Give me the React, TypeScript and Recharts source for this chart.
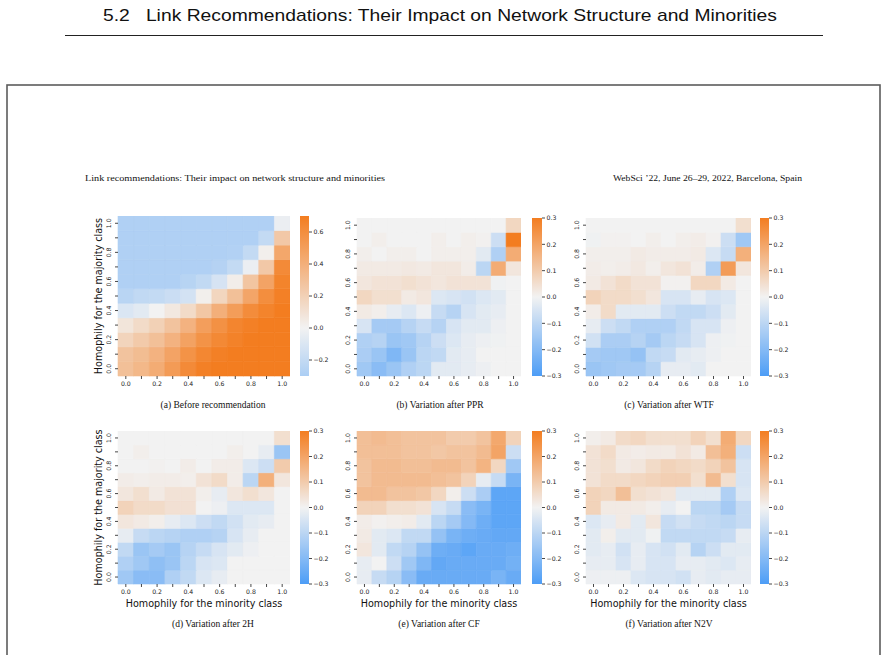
import React from "react";
import { BarChart, Bar, Cell, XAxis, YAxis } from "recharts";

// Homophily levels shared by both axes of every grid (0.0 .. 1.0)
const homophilyLevels = ["0.0", "0.1", "0.2", "0.3", "0.4", "0.5", "0.6", "0.7", "0.8", "0.9", "1.0"];

// Each grid: rows run from majority homophily 1.0 (top) down to 0.0 (bottom),
// columns from minority homophily 0.0 (left) to 1.0 (right).
const beforeRecommendation = [
  [-0.28, -0.28, -0.28, -0.28, -0.28, -0.28, -0.28, -0.28, -0.28, -0.28, -0.03],
  [-0.28, -0.28, -0.28, -0.28, -0.28, -0.28, -0.28, -0.28, -0.28, -0.2, 0.25],
  [-0.28, -0.28, -0.28, -0.28, -0.28, -0.28, -0.28, -0.27, -0.2, 0.02, 0.45],
  [-0.28, -0.28, -0.28, -0.28, -0.28, -0.28, -0.26, -0.2, -0.03, 0.25, 0.62],
  [-0.28, -0.28, -0.28, -0.28, -0.25, -0.21, -0.12, 0.03, 0.27, 0.47, 0.66],
  [-0.24, -0.21, -0.2, -0.17, -0.13, 0.02, 0.17, 0.3, 0.46, 0.6, 0.68],
  [-0.1, -0.07, 0.0, 0.06, 0.14, 0.26, 0.4, 0.51, 0.61, 0.66, 0.7],
  [0.08, 0.14, 0.2, 0.28, 0.38, 0.5, 0.58, 0.65, 0.68, 0.7, 0.7],
  [0.18, 0.24, 0.3, 0.38, 0.48, 0.57, 0.63, 0.67, 0.7, 0.7, 0.7],
  [0.28, 0.32, 0.38, 0.47, 0.57, 0.64, 0.68, 0.7, 0.7, 0.7, 0.7],
  [0.3, 0.35, 0.42, 0.52, 0.62, 0.68, 0.7, 0.7, 0.7, 0.7, 0.7],
];

const variationPPR = [
  [0.0, 0.0, 0.0, 0.0, 0.0, 0.0, 0.0, 0.0, 0.0, 0.0, 0.07],
  [0.0, 0.01, 0.0, 0.0, 0.0, 0.01, 0.0, 0.01, 0.005, -0.07, 0.3],
  [0.01, 0.0, 0.01, 0.01, 0.0, 0.01, 0.01, 0.01, -0.03, -0.12, 0.18],
  [0.02, 0.02, 0.02, 0.025, 0.02, 0.03, 0.03, 0.015, -0.1, 0.18, 0.03],
  [0.03, 0.04, 0.04, 0.05, 0.04, 0.03, 0.04, 0.04, 0.04, -0.005, 0.0],
  [0.07, 0.05, 0.05, 0.02, 0.03, -0.04, -0.05, -0.06, -0.04, -0.03, 0.0],
  [0.02, 0.01, -0.02, -0.04, -0.01, -0.08, -0.11, -0.05, -0.03, -0.02, 0.0],
  [-0.05, -0.14, -0.14, -0.11, -0.08, -0.11, -0.05, -0.03, -0.03, -0.01, 0.0],
  [-0.12, -0.11, -0.16, -0.15, -0.11, -0.07, -0.04, -0.02, -0.01, -0.005, 0.0],
  [-0.13, -0.16, -0.21, -0.16, -0.1, -0.09, -0.03, -0.02, 0.0, 0.0, 0.0],
  [-0.15, -0.19, -0.16, -0.12, -0.1, -0.03, -0.03, -0.02, -0.01, 0.0, 0.0],
];

const variationWTF = [
  [0.0, 0.0, 0.0, 0.0, 0.0, 0.0, 0.0, 0.0, 0.0, 0.0, 0.05],
  [-0.005, 0.005, 0.005, 0.0, 0.01, 0.0, 0.01, 0.015, 0.005, -0.07, -0.15],
  [0.01, 0.01, 0.01, 0.02, 0.015, 0.015, 0.015, 0.02, -0.04, -0.08, 0.17],
  [0.015, 0.01, 0.015, 0.025, 0.01, 0.03, 0.04, 0.015, -0.12, 0.22, 0.03],
  [0.02, 0.04, 0.06, 0.04, 0.04, 0.005, 0.005, 0.07, 0.07, 0.02, 0.0],
  [0.08, 0.06, 0.06, 0.05, 0.03, -0.05, -0.05, -0.02, -0.05, -0.04, 0.0],
  [0.015, 0.06, -0.03, -0.03, -0.03, -0.07, -0.09, -0.09, -0.07, -0.03, 0.0],
  [-0.02, -0.07, -0.09, -0.12, -0.12, -0.12, -0.09, -0.05, -0.05, -0.01, 0.0],
  [-0.06, -0.13, -0.13, -0.11, -0.14, -0.1, -0.08, -0.05, -0.01, -0.005, 0.0],
  [-0.14, -0.15, -0.15, -0.17, -0.09, -0.08, -0.03, -0.02, -0.01, 0.0, 0.0],
  [-0.16, -0.15, -0.14, -0.14, -0.11, -0.02, -0.02, -0.03, 0.0, 0.0, 0.0],
];

const variation2H = [
  [0.0, 0.0, 0.0, 0.0, 0.0, 0.0, 0.0, 0.0, 0.0, 0.0, 0.05],
  [0.0, 0.01, 0.0, 0.0, 0.0, 0.0, 0.0, 0.01, 0.0, -0.02, -0.16],
  [0.0, 0.0, 0.005, 0.0, 0.015, 0.0, 0.015, 0.015, -0.04, -0.07, 0.1],
  [0.015, 0.01, 0.015, 0.015, 0.01, 0.04, 0.06, 0.015, -0.1, 0.17, 0.03],
  [0.03, 0.05, 0.02, 0.04, 0.04, 0.01, -0.02, 0.03, 0.05, 0.03, 0.0],
  [0.08, 0.06, 0.06, 0.045, 0.045, 0.0, -0.01, -0.04, -0.04, -0.04, 0.0],
  [0.03, 0.02, 0.01, -0.02, -0.04, -0.07, -0.09, -0.06, -0.03, -0.02, 0.0],
  [-0.02, -0.08, -0.1, -0.11, -0.12, -0.12, -0.11, -0.05, -0.02, 0.0, 0.0],
  [-0.09, -0.16, -0.14, -0.16, -0.11, -0.08, -0.05, -0.03, -0.01, 0.0, 0.0],
  [-0.12, -0.15, -0.18, -0.16, -0.1, -0.05, -0.04, 0.0, 0.0, 0.0, 0.0],
  [-0.15, -0.19, -0.19, -0.12, -0.09, -0.04, -0.02, 0.0, 0.0, 0.0, 0.0],
];

const variationCF = [
  [0.13, 0.14, 0.13, 0.12, 0.12, 0.12, 0.1, 0.1, 0.12, 0.19, 0.08],
  [0.13, 0.13, 0.13, 0.12, 0.12, 0.11, 0.12, 0.12, 0.14, 0.2, -0.07],
  [0.12, 0.14, 0.14, 0.13, 0.13, 0.14, 0.14, 0.12, 0.16, 0.07, -0.15],
  [0.12, 0.14, 0.14, 0.14, 0.14, 0.13, 0.12, 0.08, -0.02, -0.08, -0.22],
  [0.14, 0.14, 0.12, 0.12, 0.11, 0.07, 0.01, -0.07, -0.13, -0.27, -0.27],
  [0.08, 0.08, 0.05, 0.05, 0.04, -0.05, -0.08, -0.19, -0.22, -0.27, -0.27],
  [0.015, 0.005, 0.01, 0.015, -0.03, -0.1, -0.14, -0.2, -0.24, -0.27, -0.27],
  [0.02, -0.03, -0.04, -0.09, -0.09, -0.17, -0.22, -0.24, -0.25, -0.26, -0.26],
  [0.03, -0.03, -0.09, -0.11, -0.17, -0.24, -0.25, -0.27, -0.25, -0.25, -0.24],
  [-0.02, 0.0, -0.07, -0.15, -0.21, -0.26, -0.25, -0.25, -0.25, -0.25, -0.23],
  [-0.02, -0.08, -0.11, -0.19, -0.25, -0.25, -0.25, -0.25, -0.25, -0.22, -0.25],
];

const variationN2V = [
  [0.01, 0.02, 0.06, 0.07, 0.05, 0.05, 0.05, 0.08, 0.05, 0.18, 0.07],
  [0.04, 0.06, 0.02, 0.015, 0.02, 0.02, 0.04, 0.02, 0.13, 0.17, -0.07],
  [0.04, 0.05, 0.02, 0.03, 0.06, 0.08, 0.07, 0.06, 0.08, 0.12, -0.05],
  [0.04, 0.06, 0.06, 0.07, 0.08, 0.09, 0.09, 0.05, 0.14, 0.05, -0.05],
  [0.08, 0.07, 0.13, 0.05, 0.04, 0.03, -0.03, -0.03, -0.03, -0.12, -0.04],
  [0.08, 0.02, 0.02, 0.02, 0.01, -0.02, 0.0, -0.1, -0.1, -0.14, -0.08],
  [-0.04, -0.02, 0.02, -0.03, 0.03, -0.08, -0.06, -0.08, -0.09, -0.1, -0.08],
  [-0.03, 0.01, -0.03, -0.03, -0.005, -0.09, -0.09, -0.09, -0.09, -0.08, -0.02],
  [-0.03, -0.02, -0.06, -0.02, -0.05, -0.06, -0.03, -0.11, -0.07, -0.03, -0.03],
  [-0.02, -0.02, -0.05, -0.02, -0.05, -0.05, -0.02, -0.02, -0.03, -0.04, -0.02],
  [-0.01, -0.01, -0.01, -0.04, -0.05, -0.05, -0.06, -0.02, -0.03, -0.02, -0.02],
];

const beforeTicks = [-0.2, 0, 0.2, 0.4, 0.6];
const variationTicks = [-0.3, -0.2, -0.1, 0, 0.1, 0.2, 0.3];

// Diverging colour map: blue -> light grey -> orange
const BLUE = [77, 157, 246];
const MID = [242, 242, 242];
const ORANGE = [243, 125, 32];

function divergingColor(v: number, extent: number): string {
  const t = Math.max(-1, Math.min(1, v / extent));
  const end = t < 0 ? BLUE : ORANGE;
  const a = Math.abs(t);
  const c = MID.map((m, k) => Math.round(m + (end[k] - m) * a));
  return `rgb(${c[0]},${c[1]},${c[2]})`;
}

const fmtTick = (v: number) => {
  const r = Math.round(v * 10) / 10;
  return r < 0 ? `\u2212${Math.abs(r).toFixed(1)}` : r.toFixed(1);
};

const TICK_FONT = "'DejaVu Sans', sans-serif";
const TICK_SIZE = 6.2;
const INK = "#1a1a1a";

type Box = { x: number; y: number; w: number; h: number };

const levelCenters = homophilyLevels.map((_, i) => i + 0.5);

function RotatedTick(props: any) {
  const { x, y, payload } = props;
  const idx = Math.round(payload.value - 0.5);
  if (idx % 2 !== 0) return null;
  const bx = x - 2;
  return (
    <text
      x={bx}
      y={y}
      transform={`rotate(-90 ${bx} ${y})`}
      textAnchor="middle"
      fontSize={TICK_SIZE}
      fontFamily={TICK_FONT}
      fill={INK}
    >
      {homophilyLevels[idx]}
    </text>
  );
}

function Heatmap({ grid, extent, plot }: { grid: number[][]; extent: number; plot: Box }) {
  const yAxisW = 22;
  const xAxisH = 16;
  const data = homophilyLevels.map((label) => {
    const row: Record<string, any> = { x: label };
    homophilyLevels.forEach((_, j) => {
      row[`y${j}`] = 1;
    });
    return row;
  });
  return (
    <div style={{ position: "absolute", left: plot.x - yAxisW, top: plot.y }}>
      <BarChart
        width={plot.w + yAxisW}
        height={plot.h + xAxisH}
        data={data}
        margin={{ top: 0, right: 0, bottom: 0, left: 0 }}
        barCategoryGap={0}
        barGap={0}
      >
        <XAxis
          dataKey="x"
          interval={0}
          height={xAxisH}
          tickSize={3}
          tickMargin={3}
          axisLine={false}
          tickLine={{ stroke: INK, strokeWidth: 0.8 }}
          tickFormatter={(v: string, i: number) => (i % 2 === 0 ? v : "")}
          tick={{ fontSize: TICK_SIZE, fontFamily: TICK_FONT, fill: INK }}
        />
        <YAxis
          type="number"
          domain={[0, homophilyLevels.length]}
          ticks={levelCenters}
          interval={0}
          width={yAxisW}
          tickSize={3}
          axisLine={false}
          tickLine={{ stroke: INK, strokeWidth: 0.8 }}
          tick={<RotatedTick />}
        />
        {homophilyLevels.map((_, j) => (
          <Bar key={j} dataKey={`y${j}`} stackId="grid" isAnimationActive={false}>
            {homophilyLevels.map((__, i) => {
              const c = divergingColor(grid[grid.length - 1 - j][i], extent);
              return <Cell key={i} fill={c} stroke={c} strokeWidth={0.6} />;
            })}
          </Bar>
        ))}
      </BarChart>
    </div>
  );
}

function Colorbar({ id, vmin, vmax, extent, ticks, box }: { id: string; vmin: number; vmax: number; extent: number; ticks: number[]; box: Box }) {
  const labelW = 26;
  const pad = 6;
  const steps = 40;
  const stops = Array.from({ length: steps + 1 }, (_, k) => {
    const f = k / steps;
    const v = vmin + (vmax - vmin) * f;
    return <stop key={k} offset={f} stopColor={divergingColor(v, extent)} />;
  });
  return (
    <div style={{ position: "absolute", left: box.x, top: box.y - pad }}>
      <BarChart
        width={box.w + labelW}
        height={box.h + 2 * pad}
        data={[{ k: "cb", span: [vmin, vmax] }]}
        margin={{ top: pad, right: 0, bottom: pad, left: 0 }}
        barCategoryGap={0}
      >
        <defs>
          <linearGradient id={id} x1="0" y1="1" x2="0" y2="0">
            {stops}
          </linearGradient>
        </defs>
        <XAxis dataKey="k" hide />
        <YAxis
          type="number"
          orientation="right"
          domain={[vmin, vmax]}
          allowDataOverflow
          ticks={ticks}
          interval={0}
          width={labelW}
          tickSize={3}
          tickMargin={1.5}
          axisLine={false}
          tickLine={{ stroke: INK, strokeWidth: 0.8 }}
          tickFormatter={fmtTick}
          tick={{ fontSize: TICK_SIZE, fontFamily: TICK_FONT, fill: INK }}
        />
        <Bar dataKey="span" fill={`url(#${id})`} isAnimationActive={false} />
      </BarChart>
    </div>
  );
}

type Panel = {
  id: string;
  grid: number[][];
  vmin: number;
  vmax: number;
  extent: number;
  ticks: number[];
  plot: Box;
  cb: Box;
  caption: string;
  capX: number;
  capY: number;
  yTitle: boolean;
  xTitle: boolean;
};

const panels: Panel[] = [
  { id: "a", grid: beforeRecommendation, vmin: -0.3, vmax: 0.7, extent: 0.7, ticks: beforeTicks, plot: { x: 118, y: 216, w: 172, h: 160 }, cb: { x: 300, y: 216, w: 9, h: 160 }, caption: "(a) Before recommendation", capX: 213, capY: 407.5, yTitle: true, xTitle: false },
  { id: "b", grid: variationPPR, vmin: -0.3, vmax: 0.3, extent: 0.3, ticks: variationTicks, plot: { x: 357, y: 218, w: 164, h: 158 }, cb: { x: 532, y: 218, w: 10, h: 158 }, caption: "(b) Variation after PPR", capX: 440, capY: 407.5, yTitle: false, xTitle: false },
  { id: "c", grid: variationWTF, vmin: -0.3, vmax: 0.3, extent: 0.3, ticks: variationTicks, plot: { x: 586, y: 218, w: 165, h: 158 }, cb: { x: 760, y: 218, w: 9, h: 158 }, caption: "(c) Variation after WTF", capX: 669, capY: 407.5, yTitle: false, xTitle: false },
  { id: "d", grid: variation2H, vmin: -0.3, vmax: 0.3, extent: 0.3, ticks: variationTicks, plot: { x: 118, y: 431, w: 172, h: 153 }, cb: { x: 300, y: 431, w: 9, h: 153 }, caption: "(d) Variation after 2H", capX: 213, capY: 626.5, yTitle: true, xTitle: true },
  { id: "e", grid: variationCF, vmin: -0.3, vmax: 0.3, extent: 0.3, ticks: variationTicks, plot: { x: 357, y: 431, w: 164, h: 153 }, cb: { x: 532, y: 431, w: 10, h: 153 }, caption: "(e) Variation after CF", capX: 439, capY: 626.5, yTitle: false, xTitle: true },
  { id: "f", grid: variationN2V, vmin: -0.3, vmax: 0.3, extent: 0.3, ticks: variationTicks, plot: { x: 586, y: 431, w: 165, h: 153 }, cb: { x: 760, y: 431, w: 9, h: 153 }, caption: "(f) Variation after N2V", capX: 669, capY: 626.5, yTitle: false, xTitle: true },
];

const SERIF = "'Liberation Serif', 'DejaVu Serif', serif";
const SANS = "'DejaVu Sans', sans-serif";

export default function App() {
  return (
    <div style={{ position: "absolute", left: 0, top: 0, width: 887, height: 655, background: "#fff", overflow: "hidden" }}>
      <svg width={887} height={655} style={{ position: "absolute", left: 0, top: 0 }}>
        <text x={440} y={20.5} textAnchor="middle" fontSize={17} fontFamily="'Liberation Sans', sans-serif" fill="#111" textLength={674} lengthAdjust="spacingAndGlyphs">
          5.2{"\u00a0\u00a0\u00a0"}Link Recommendations: Their Impact on Network Structure and Minorities
        </text>
        <line x1={65} x2={823} y1={35.5} y2={35.5} stroke="#222" strokeWidth={1} />
        <rect x={7} y={85} width={873} height={620} fill="#fff" stroke="#5c5c5c" strokeWidth={1.6} />
        <text x={85} y={181} fontSize={8} fontFamily={SERIF} fill="#111" textLength={300} lengthAdjust="spacingAndGlyphs">
          Link recommendations: Their impact on network structure and minorities
        </text>
        <text x={613} y={181} fontSize={8} fontFamily={SERIF} fill="#111" textLength={189} lengthAdjust="spacingAndGlyphs">
          WebSci ’22, June 26–29, 2022, Barcelona, Spain
        </text>
        {panels.map((p) => (
          <g key={p.id}>
            <text x={p.capX} y={p.capY} textAnchor="middle" fontSize={9.5} fontFamily={SERIF} fill="#111">
              {p.caption}
            </text>
            {p.yTitle && (
              <text
                x={98.5}
                y={p.plot.y + p.plot.h / 2}
                transform={`rotate(-90 98.5 ${p.plot.y + p.plot.h / 2})`}
                textAnchor="middle"
                dominantBaseline="central"
                fontSize={9.6}
                fontFamily={SANS}
                fill="#111"
              >
                Homophily for the majority class
              </text>
            )}
            {p.xTitle && (
              <text x={p.plot.x + p.plot.w / 2} y={603} textAnchor="middle" dominantBaseline="central" fontSize={9.6} fontFamily={SANS} fill="#111">
                Homophily for the minority class
              </text>
            )}
          </g>
        ))}
      </svg>
      {panels.map((p) => (
        <React.Fragment key={p.id}>
          <Heatmap grid={p.grid} extent={p.extent} plot={p.plot} />
          <Colorbar id={`cbar-${p.id}`} vmin={p.vmin} vmax={p.vmax} extent={p.extent} ticks={p.ticks} box={p.cb} />
        </React.Fragment>
      ))}
    </div>
  );
}
